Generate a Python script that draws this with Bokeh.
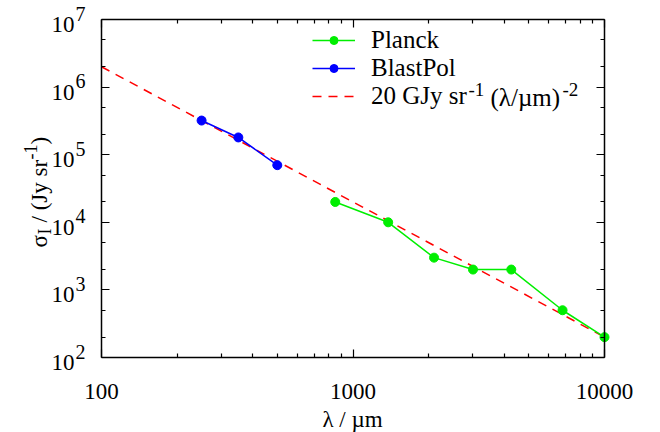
import math
from bokeh.plotting import figure
from bokeh.models import (LogAxis, FixedTicker, Label, Legend, LegendItem, Range1d)
from bokeh.embed import file_html
from bokeh.resources import INLINE

# ---- data ----
planck_wl = [850, 1380, 2100, 3000, 4260, 6810, 10000]
planck_sigma = [2.0e4, 1.0e4, 3.0e3, 2.0e3, 2.0e3, 5.0e2, 2.0e2]
blast_wl = [250, 350, 500]
blast_sigma = [3.2e5, 1.8e5, 7.0e4]
model_amp = 20e9          # Jy sr^-1  (20 GJy sr^-1)
model_index = -2
model_wl = [100, 10000]
x_lim = (100, 10000)
y_lim = (100, 10000000)
x_tick_values = [100, 1000, 10000]
x_tick_labels = ["100", "1000", "10000"]
y_tick_exponents = [2, 3, 4, 5, 6, 7]

model_sigma = [model_amp * w ** model_index for w in model_wl]

FONT = "Liberation Serif, Times New Roman, serif"
FS = "23px"
FS_SMALL = "18px"
FS_EXP = "20px"
FS_LEG = "25px"
FS_LEG_SMALL = "19px"
GREEN = "#00ee00"
BLUE = "#0000ff"
RED = "#ff0000"

# canvas and plot-box geometry (pixels)
W, H = 660, 432
BOX_L, BOX_R, BOX_T, BOX_B = 101, 604, 19, 357

lx0, lx1 = math.log10(x_lim[0]), math.log10(x_lim[1])
ly0, ly1 = math.log10(y_lim[0]), math.log10(y_lim[1])
ppd_x = (BOX_R - BOX_L) / (lx1 - lx0)
ppd_y = (BOX_B - BOX_T) / (ly1 - ly0)
x_range = Range1d(10 ** (lx0 - BOX_L / ppd_x), 10 ** (lx1 + (W - BOX_R) / ppd_x))
y_range = Range1d(10 ** (ly0 - (H - BOX_B) / ppd_y), 10 ** (ly1 + BOX_T / ppd_y))

p = figure(width=W, height=H, x_axis_type="log", y_axis_type="log",
           x_range=x_range, y_range=y_range,
           output_backend="svg", toolbar_location=None,
           min_border=0, min_border_left=0, min_border_right=0,
           min_border_top=0, min_border_bottom=0)
p.grid.visible = False
p.outline_line_color = None
p.background_fill_color = "white"
p.border_fill_color = "white"

x_major = x_tick_values
x_minor = [m * d for d in [100, 1000] for m in range(2, 10)]
y_major = [10 ** e for e in y_tick_exponents]
y_minor = [m * 10 ** e for e in y_tick_exponents[:-1] for m in (2, 5)]

def style_axis(ax, major, minor, loc, bounds):
    ax.fixed_location = loc
    ax.bounds = bounds
    ax.ticker = FixedTicker(ticks=major, minor_ticks=minor)
    ax.major_label_text_font_size = "1px"
    ax.major_label_text_alpha = 0
    ax.major_label_standoff = 0
    ax.major_tick_in = 8
    ax.major_tick_out = 0
    ax.minor_tick_in = 4
    ax.minor_tick_out = 0
    ax.axis_line_color = "black"
    ax.axis_line_width = 1.5
    ax.major_tick_line_color = "black"
    ax.minor_tick_line_color = "black"
    ax.major_tick_line_width = 1.2
    ax.minor_tick_line_width = 1.2

style_axis(p.xaxis[0], x_major, x_minor, y_lim[0], x_lim)
style_axis(p.yaxis[0], y_major, y_minor, x_lim[0], y_lim)
top = LogAxis()
style_axis(top, x_major, x_minor, y_lim[1], x_lim)
p.add_layout(top, "above")
right = LogAxis()
style_axis(right, y_major, y_minor, x_lim[1], y_lim)
p.add_layout(right, "right")

# ---- glyphs ----
m_line = p.line(model_wl, model_sigma, line_color=RED, line_width=1.5, line_dash="9 7")
pl_line = p.line(planck_wl, planck_sigma, line_color=GREEN, line_width=1.5)
pl_pts = p.scatter(planck_wl, planck_sigma, size=9, fill_color=GREEN, line_color=GREEN)
bl_line = p.line(blast_wl, blast_sigma, line_color=BLUE, line_width=1.5)
bl_pts = p.scatter(blast_wl, blast_sigma, size=9, fill_color=BLUE, line_color=BLUE)

legend = Legend(items=[LegendItem(label="Planck", renderers=[pl_line, pl_pts]),
                       LegendItem(label="BlastPol", renderers=[bl_line, bl_pts]),
                       LegendItem(label="20 GJy sr", renderers=[m_line])],
                location=(312, H - 110), glyph_width=43, glyph_height=20, label_height=20,
                spacing=0, padding=0, margin=0, label_standoff=16,
                border_line_color=None, background_fill_alpha=0,
                label_text_font=FONT, label_text_font_size=FS_LEG,
                label_text_color="black")
p.add_layout(legend, "center")

def lab(x, y, text, size=FS, align="left", baseline="middle", angle=0.0):
    p.add_layout(Label(x=x, y=H - y, x_units="screen", y_units="screen",
                       text=text, text_font=FONT, text_font_size=size,
                       text_align=align, text_baseline=baseline, angle=angle,
                       text_color="black"))

# x tick labels (positions from the scale)
for v, t in zip(x_tick_values, x_tick_labels):
    p.add_layout(Label(x=v, y=y_lim[0], x_units="data", y_units="data", y_offset=-34,
                       text=t, text_font=FONT, text_font_size=FS,
                       text_align="center", text_baseline="middle", text_color="black"))
# y tick labels 10^n
for e in y_tick_exponents:
    p.add_layout(Label(x=x_lim[0], y=10 ** e, x_units="data", y_units="data",
                       x_offset=-27, y_offset=-5, text="10", text_font=FONT,
                       text_font_size=FS, text_align="right", text_baseline="middle",
                       text_color="black"))
    p.add_layout(Label(x=x_lim[0], y=10 ** e, x_units="data", y_units="data",
                       x_offset=-26, y_offset=6, text=str(e), text_font=FONT,
                       text_font_size=FS_EXP, text_align="left", text_baseline="middle",
                       text_color="black"))

# x axis label
lab(352, 419, "λ / µm", align="center")

# y axis label (rotated, pieces read bottom-to-top)
a = math.pi / 2
base = 39
lab(base, 247, "σ", align="left", baseline="alphabetic", angle=a)
lab(base + 5, 234, "I", size=FS_SMALL, align="left", baseline="alphabetic", angle=a)
lab(base, 222, "/ (Jy sr", align="left", baseline="alphabetic", angle=a)
lab(base - 9, 159, "-1", size=FS_SMALL, align="left", baseline="alphabetic", angle=a)
lab(base, 144, ")", align="left", baseline="alphabetic", angle=a)

# rest of third legend label with superscripts
ly = 97
lab(468, ly - 8, "-1", size=FS_LEG_SMALL, align="left")
lab(490, ly, "(λ/µm)", size=FS_LEG, align="left")
lab(562, ly - 8, "-2", size=FS_LEG_SMALL, align="left")

open("out.html", "w").write(file_html(p, INLINE))
